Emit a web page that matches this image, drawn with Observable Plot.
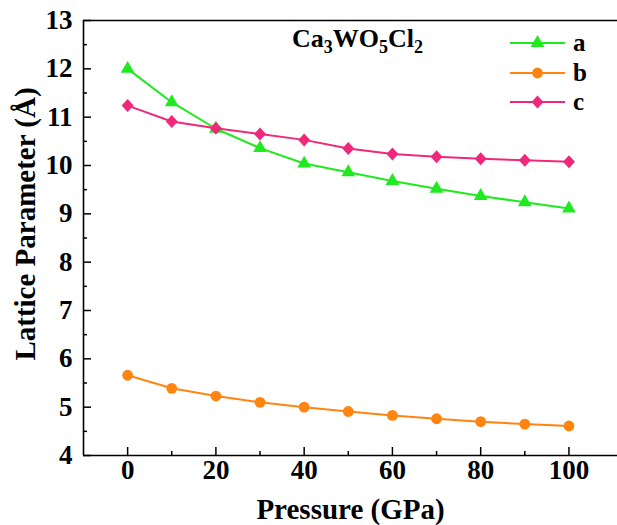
<!DOCTYPE html>
<html>
<head>
<meta charset="utf-8">
<script src="https://cdn.jsdelivr.net/npm/d3@7"></script>
<script src="https://cdn.jsdelivr.net/npm/@observablehq/plot@0.6"></script>
<style>
  html, body { margin: 0; padding: 0; background: #fff; }
  #wrap { position: relative; width: 617px; height: 525px; font-family: "Liberation Serif", "Times New Roman", serif; }
  #title { position: absolute; left: 292px; top: 24px; font-size: 26px; font-weight: bold; color: #000; white-space: nowrap; }
  #title sub { font-size: 18px; vertical-align: -6px; line-height: 0; }
  #legend { position: absolute; left: 0; top: 0; pointer-events: none; }
</style>
</head>
<body>
<div id="wrap"></div>
<script>
// ---- data ----
const pressure = [0, 10, 20, 30, 40, 50, 60, 70, 80, 90, 100];
const aValues = [12.00, 11.31, 10.76, 10.36, 10.04, 9.86, 9.68, 9.52, 9.37, 9.24, 9.11];
const bValues = [5.66, 5.39, 5.23, 5.10, 5.00, 4.91, 4.83, 4.76, 4.70, 4.65, 4.61];
const cValues = [11.24, 10.91, 10.77, 10.65, 10.53, 10.35, 10.24, 10.18, 10.14, 10.11, 10.08];
const seriesNames = ["a", "b", "c"];
const xTicks = [0, 20, 40, 60, 80, 100];
const xMinor = [10, 30, 50, 70, 90];
const yTicks = [4, 5, 6, 7, 8, 9, 10, 11, 12, 13];
const yMinor = [4.5, 5.5, 6.5, 7.5, 8.5, 9.5, 10.5, 11.5, 12.5];
const xLabel = "Pressure (GPa)";
const yLabel = "Lattice Parameter (Å)";

const colors = { a: "#1FEA1F", b: "#FF8410", c: "#F0287A" };

const diamond = {
  draw(context, size) {
    const h = Math.sqrt(size / Math.PI) * 1.3;
    const w = h * 0.92;
    context.moveTo(0, -h);
    context.lineTo(w, 0);
    context.lineTo(0, h);
    context.lineTo(-w, 0);
    context.closePath();
  }
};
const symbols = { a: "triangle", b: "circle", c: diamond };
const radii = { a: 5.1, b: 5.4, c: 5.0 };

const series = { a: aValues, b: bValues, c: cValues };
const rows = [];
for (const s of seriesNames) pressure.forEach((p, i) => rows.push({ s, p, v: series[s][i] }));

const marks = [
  Plot.ruleY([13], { stroke: "#000", strokeWidth: 1.6 }),
  Plot.ruleY([4], { stroke: "#000", strokeWidth: 1.6 }),
  Plot.ruleX([-10], { stroke: "#000", strokeWidth: 1.6 }),
  Plot.axisX({ ticks: xMinor, tickSize: -4, tickFormat: () => "", label: null, strokeWidth: 1.5 }),
  Plot.axisX({ ticks: xTicks, tickSize: -8, tickPadding: 12, tickFormat: d => String(d), strokeWidth: 1.5,
    fontSize: 27, label: null }),
  Plot.axisY({ ticks: yMinor, tickSize: -4, tickFormat: () => "", label: null, strokeWidth: 1.5 }),
  Plot.axisY({ ticks: yTicks, tickSize: -8, tickPadding: 19, tickFormat: d => String(d), strokeWidth: 1.5,
    fontSize: 27, label: null }),
  Plot.text([xLabel], { frameAnchor: "bottom", dy: 54, fontSize: 29, fontWeight: "bold", textAnchor: "middle", lineAnchor: "middle", fill: "#000" }),
  Plot.text([yLabel], { frameAnchor: "left", dx: -58, dy: -14, rotate: -90, fontSize: 29, fontWeight: "bold", textAnchor: "middle", lineAnchor: "middle", fill: "#000" })
];
for (const s of seriesNames) {
  const d = rows.filter(r => r.s === s);
  marks.push(Plot.line(d, { x: "p", y: "v", stroke: colors[s], strokeWidth: 2 }));
  marks.push(Plot.dot(d, { x: "p", y: "v", fill: colors[s], stroke: "none", symbol: () => symbols[s], r: radii[s] }));
}

const chart = Plot.plot({
  width: 617,
  height: 525,
  marginLeft: 83,
  marginRight: 0,
  marginTop: 20,
  marginBottom: 70,
  style: { fontSize: "27px", fontWeight: "bold", fontFamily: "'Liberation Serif', 'Times New Roman', serif", color: "#000", background: "#fff", overflow: "visible" },
  x: { domain: [-10, 111], label: null },
  y: { domain: [4, 13], label: null },
  symbol: { type: "identity" },
  marks
});
document.getElementById("wrap").appendChild(chart);

// title (formula with subscripts)
const title = document.createElement("div");
title.id = "title";
title.innerHTML = "Ca<sub>3</sub>WO<sub>5</sub>Cl<sub>2</sub>";
document.getElementById("wrap").appendChild(title);

// legend overlay
const ns = "http://www.w3.org/2000/svg";
const leg = document.createElementNS(ns, "svg");
leg.setAttribute("id", "legend");
leg.setAttribute("width", 617);
leg.setAttribute("height", 525);
const rowsY = [43, 73, 102];
seriesNames.forEach((s, i) => {
  const y = rowsY[i];
  const line = document.createElementNS(ns, "line");
  line.setAttribute("x1", 510); line.setAttribute("x2", 565);
  line.setAttribute("y1", y); line.setAttribute("y2", y);
  line.setAttribute("stroke", colors[s]); line.setAttribute("stroke-width", 2);
  leg.appendChild(line);
  const sym = document.createElementNS(ns, "path");
  const type = symbols[s] === "triangle" ? d3.symbolTriangle : symbols[s] === "circle" ? d3.symbolCircle : diamond;
  sym.setAttribute("d", d3.symbol(type, Math.PI * radii[s] * radii[s])());
  sym.setAttribute("transform", `translate(537.5,${y})`);
  sym.setAttribute("fill", colors[s]);
  leg.appendChild(sym);
  const t = document.createElementNS(ns, "text");
  t.setAttribute("x", 573); t.setAttribute("y", y);
  t.setAttribute("dy", "0.33em");
  t.setAttribute("font-size", 25); t.setAttribute("font-weight", "bold");
  t.setAttribute("font-family", "'Liberation Serif', 'Times New Roman', serif");
  t.textContent = s;
  leg.appendChild(t);
});
document.getElementById("wrap").appendChild(leg);
</script>
</body>
</html>
